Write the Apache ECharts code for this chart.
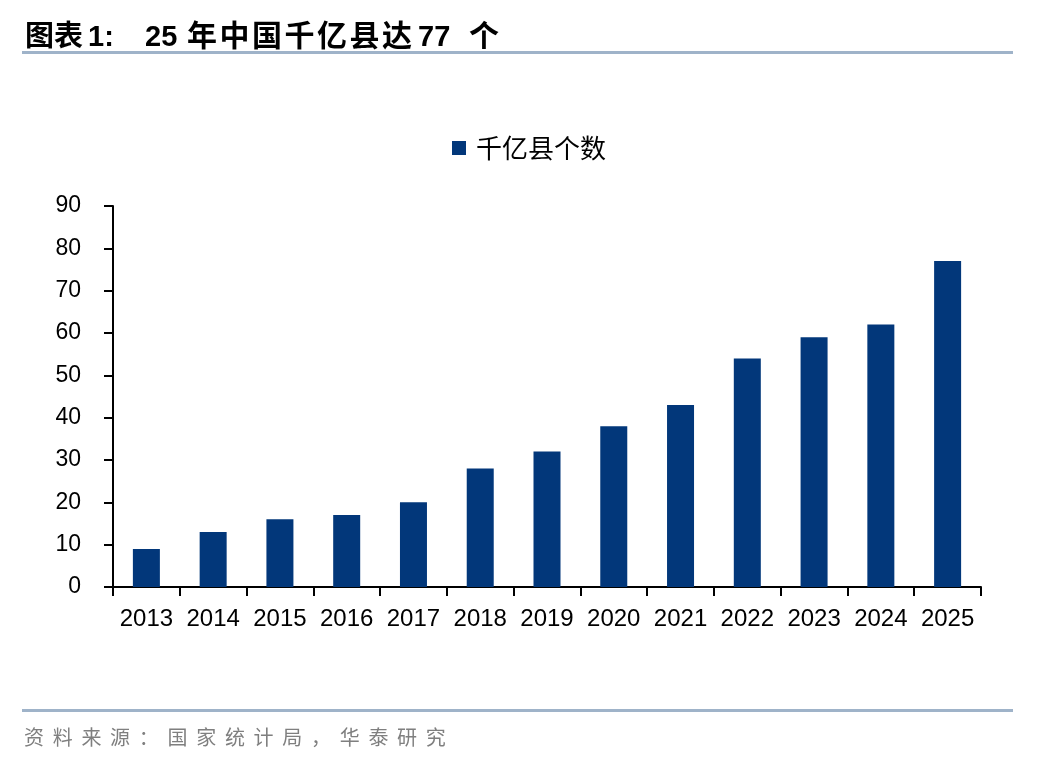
<!DOCTYPE html>
<html>
<head>
<meta charset="utf-8">
<script src="https://cdn.jsdelivr.net/npm/echarts@6/dist/echarts.min.js"></script>
<style>
  html, body { margin: 0; padding: 0; background: #fff; }
  #wrap { position: relative; width: 1048px; height: 760px; overflow: hidden; }
  #chart { position: absolute; left: 0; top: 0; width: 1048px; height: 760px; }
  .title span {
    position: absolute; top: 13px; white-space: nowrap;
    font-family: "Noto Sans CJK SC", sans-serif; font-weight: bold;
    font-size: 30px; line-height: 40px; letter-spacing: 2.5px; color: #000;
  }
  .title span.num { top: 16px; font-family: "Liberation Sans", Arial, sans-serif; letter-spacing: 0; font-size: 29px; }
  .rule { position: absolute; left: 22px; width: 991px; height: 3px; background: #9fb3c9; }
  .source {
    position: absolute; left: 24px; top: 722px; white-space: nowrap;
    font-family: "Noto Sans CJK SC", sans-serif;
    font-size: 20px; line-height: 30px; letter-spacing: 8.7px; color: #7f7f7f;
  }
</style>
</head>
<body>
<div id="wrap">
  <div id="chart"></div>
  <div class="title">
    <span style="left:25px;font-size:29px;letter-spacing:0">图表</span>
    <span class="num" style="left:88px">1:</span>
    <span class="num" style="left:145px">25</span>
    <span style="left:187px">年中国千亿县达</span>
    <span class="num" style="left:418px">77</span>
    <span style="left:469px">个</span>
  </div>
  <div class="rule" style="top:51px"></div>
  <div class="rule" style="top:709px"></div>
  <div class="source">资料来源：国家统计局，华泰研究</div>
</div>
<script>
// 千亿县个数（个）
const years = ['2013', '2014', '2015', '2016', '2017', '2018', '2019',
               '2020', '2021', '2022', '2023', '2024', '2025'];
const counts = [9, 13, 16, 17, 20, 28, 32, 38, 43, 54, 59, 62, 77];
const seriesName = '千亿县个数';

let myChart = echarts.init(document.getElementById('chart'));
const numFont = 'Liberation Sans, Arial, sans-serif';
const option = {
    animation: false,
    legend: {
        data: [seriesName],
        left: 447,
        top: 130,
        icon: 'rect',
        itemWidth: 14,
        itemHeight: 14,
        itemGap: 10,
        textStyle: { fontFamily: 'Noto Sans CJK SC', fontSize: 26, color: '#000', padding: [0, 0, 0, 5] }
    },
    grid: { left: 113, right: 67, top: 206, bottom: 173 },
    xAxis: {
        type: 'category',
        data: years,
        axisLine: { lineStyle: { color: '#000', width: 2 } },
        axisTick: { show: true, length: 9, lineStyle: { color: '#000', width: 2 } },
        axisLabel: { margin: 20, interval: 0, fontFamily: numFont, fontSize: 24, color: '#000' }
    },
    yAxis: {
        type: 'value',
        min: 0,
        max: 90,
        interval: 10,
        axisLine: { show: true, lineStyle: { color: '#000', width: 2 } },
        axisTick: { show: true, length: 9, lineStyle: { color: '#000', width: 2 } },
        splitLine: { show: false },
        axisLabel: { margin: 32, fontFamily: numFont, fontSize: 23, color: '#000' }
    },
    series: [{
        name: seriesName,
        type: 'bar',
        data: counts,
        barWidth: 27,
        itemStyle: { color: '#02377a' }
    }]
};
myChart.setOption(option);
</script>
</body>
</html>
